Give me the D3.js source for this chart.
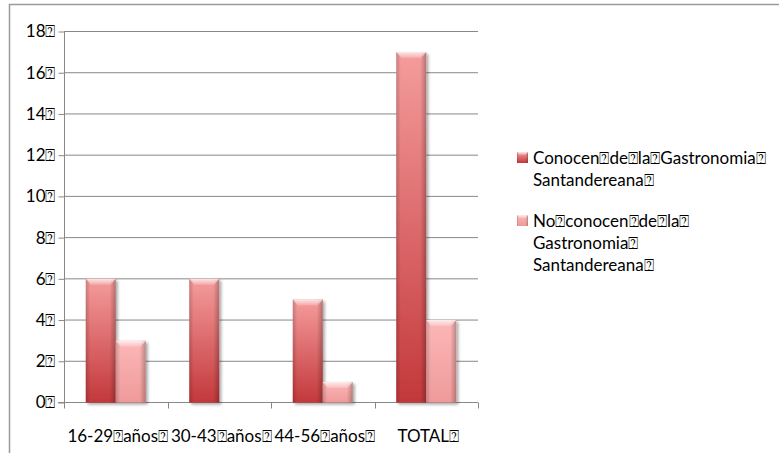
<!DOCTYPE html>
<html>
<head>
<meta charset="utf-8">
<script src="https://cdn.jsdelivr.net/npm/d3@7"></script>
<style>
  html, body { margin: 0; background: #fff; overflow: hidden; }
  svg { display: block; }
  text { font-family: Lato, "Noto Sans", sans-serif; fill: #000; }
</style>
</head>
<body>
<div id="chart"></div>
<script>
// datos del gráfico
const categories = ['16-29\u2370años\u2370', '30-43\u2370años\u2370', '44-56\u2370años\u2370', 'TOTAL\u2370']
const seriesNames = ['Conocen\u2370de\u2370la\u2370Gastronomia\u2370 Santandereana\u2370', 'No\u2370conocen\u2370de\u2370la\u2370 Gastronomia\u2370 Santandereana\u2370']
const conocen = [6, 6, 5, 17]
const noConocen = [3, 0, 1, 4]
const yTicks = [0, 2, 4, 6, 8, 10, 12, 14, 16, 18]

const width = 779
const height = 453
const fontSize = 17
const svg = d3.select('#chart').append('svg')
  .attr('width', width)
  .attr('height', height)
const defs = svg.append('defs')

// degradados de las barras
const palettes = [
  { id: 'g0', top: '#f59c9c', bottom: '#c3383b' },
  { id: 'g1', top: '#fcb7b7', bottom: '#ef9a9a' }
]
palettes.forEach(p => {
  const g = defs.append('linearGradient').attr('id', p.id)
    .attr('x1', 0).attr('y1', 0).attr('x2', 0).attr('y2', 1)
  g.append('stop').attr('offset', '0%').attr('stop-color', p.top)
  g.append('stop').attr('offset', '100%').attr('stop-color', p.bottom)
})
const side = defs.append('linearGradient').attr('id', 'side')
  .attr('x1', 0).attr('y1', 0).attr('x2', 1).attr('y2', 0)
side.append('stop').attr('offset', '0%').attr('stop-color', '#000').attr('stop-opacity', 0.18)
side.append('stop').attr('offset', '15%').attr('stop-color', '#000').attr('stop-opacity', 0)
side.append('stop').attr('offset', '80%').attr('stop-color', '#000').attr('stop-opacity', 0)
side.append('stop').attr('offset', '100%').attr('stop-color', '#000').attr('stop-opacity', 0.25)
const cap = defs.append('linearGradient').attr('id', 'cap')
  .attr('x1', 0).attr('y1', 0).attr('x2', 0).attr('y2', 1)
cap.append('stop').attr('offset', '0%').attr('stop-color', '#fff').attr('stop-opacity', 0.75)
cap.append('stop').attr('offset', '100%').attr('stop-color', '#fff').attr('stop-opacity', 0.15)
const shadow = defs.append('filter').attr('id', 'shadow')
  .attr('x', '-30%').attr('y', '-10%').attr('width', '160%').attr('height', '130%')
shadow.append('feDropShadow').attr('dx', 2).attr('dy', 2).attr('stdDeviation', 1.6)
  .attr('flood-color', '#000').attr('flood-opacity', 0.35)

// marco exterior (solo se ven arriba e izquierda)
svg.append('path')
  .attr('d', `M9.5,${height}V4.5H${width}`)
  .attr('fill', 'none')
  .attr('stroke', '#9a9a9a')
  .attr('stroke-width', 1.5)

// escalas
const x = d3.scaleBand().domain(categories).range([64, 478])
const xs = d3.scaleBand().domain([0, 1]).range([0, x.bandwidth()]).paddingOuter(0.725)
const y = d3.scaleLinear().domain([0, 18]).range([402.5, 31.5])

// rejilla
svg.append('g').selectAll('line').data(yTicks.slice(1)).join('line')
  .attr('x1', 64).attr('x2', 478)
  .attr('y1', d => y(d)).attr('y2', d => y(d))
  .attr('stroke', '#888').attr('stroke-width', 1)

// eje Y
const yAxis = svg.append('g').attr('transform', 'translate(64.5,0)')
  .call(d3.axisLeft(y).tickValues(yTicks).tickSize(6).tickPadding(3).tickFormat(d => d + '\u2370'))
yAxis.select('.domain').attr('stroke', '#888').attr('d', `M0,${y(18)}V${y(0)}`)
yAxis.selectAll('.tick line').attr('stroke', '#888')
yAxis.selectAll('.tick text').attr('font-size', fontSize).attr('font-family', 'Lato, sans-serif')

// eje X
const xAxis = svg.append('g').attr('transform', `translate(0,${y(0)})`)
xAxis.append('line').attr('x1', 58).attr('x2', 478).attr('stroke', '#888')
xAxis.selectAll('.xt').data([64].concat(categories.map(c => x(c) + x.bandwidth()))).join('line')
  .attr('class', 'xt')
  .attr('x1', d => Math.round(d) + 0.5).attr('x2', d => Math.round(d) + 0.5)
  .attr('y1', 0).attr('y2', 6)
  .attr('stroke', '#888')
xAxis.selectAll('text').data(categories).join('text')
  .attr('x', d => x(d) + x.bandwidth() / 2 + 2)
  .attr('y', 39)
  .attr('text-anchor', 'middle')
  .attr('font-size', fontSize)
  .text(d => d)

// barras
const bars = []
categories.forEach((c, i) => {
  bars.push({ c, s: 0, v: conocen[i] })
  bars.push({ c, s: 1, v: noConocen[i] })
})
const barG = svg.append('g').selectAll('g').data(bars.filter(d => d.v > 0)).join('g')
  .attr('transform', d => `translate(${x(d.c) + xs(d.s)},${y(d.v)})`)
const bw = xs.bandwidth()
barG.append('rect')
  .attr('width', bw)
  .attr('height', d => y(0) - y(d.v))
  .attr('fill', d => `url(#g${d.s})`)
  .attr('filter', 'url(#shadow)')
barG.append('rect')
  .attr('width', bw)
  .attr('height', d => y(0) - y(d.v))
  .attr('fill', 'url(#side)')
barG.append('path')
  .attr('d', `M0,0H${bw}L${bw - 5},6H5Z`)
  .attr('fill', 'url(#cap)')

// leyenda
const legend = svg.append('g').selectAll('g').data(seriesNames).join('g')
  .attr('transform', (d, i) => `translate(517,${152 + i * 63})`)
legend.append('rect')
  .attr('width', 11).attr('height', 11)
  .attr('fill', (d, i) => `url(#g${i})`)
legend.append('rect')
  .attr('width', 11).attr('height', 11)
  .attr('fill', 'url(#side)')
legend.append('path')
  .attr('d', 'M0,0H11L9,3H2Z')
  .attr('fill', 'url(#cap)')
legend.append('text')
  .attr('font-size', fontSize)
  .selectAll('tspan').data(d => d.split(' ')).join('tspan')
  .attr('x', 16)
  .attr('y', (d, i) => 12 + i * 22)
  .text(d => d)
</script>
</body>
</html>
